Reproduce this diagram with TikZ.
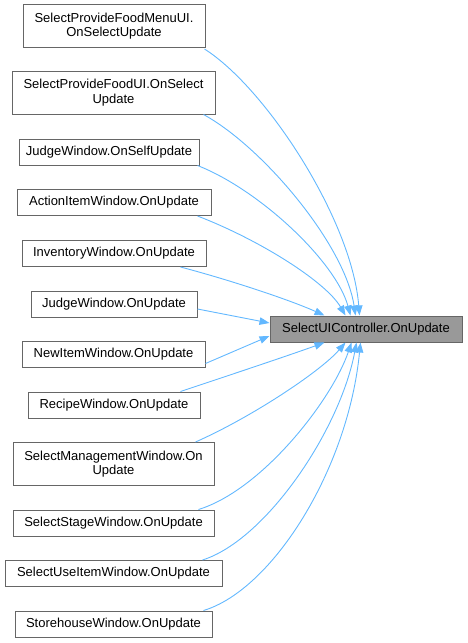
\documentclass[tikz,border=0pt]{standalone}
\usepackage{fontspec}
\setmainfont{Liberation Sans}
\usetikzlibrary{arrows.meta}
\definecolor{edgeblue}{HTML}{63B8FF}
\definecolor{boxborder}{HTML}{666666}
\definecolor{targetfill}{HTML}{999999}
\begin{document}
\begin{tikzpicture}[x=1pt,y=-1pt,
  fn/.style={draw=boxborder,line width=1pt,fill=white,inner sep=0pt,align=center,
    minimum height=26pt,font=\fontsize{13}{14.5}\selectfont},
  fn2/.style={fn,minimum height=43pt},
  tgt/.style={fn,fill=targetfill},
  call/.style={draw=edgeblue,line width=0.9pt,-{Triangle[length=10pt,width=7.5pt]}}]
\useasboundingbox (0,0) rectangle (467,643);
\node[fn2,minimum width=182pt] (s1) at (114,26) {SelectProvideFoodMenuUI.\\OnSelectUpdate};
\node[fn2,minimum width=203pt] (s2) at (113.5,92.5) {SelectProvideFoodUI.OnSelect\\Update};
\node[fn,minimum width=180pt] (s3) at (109,152) {JudgeWindow.OnSelfUpdate};
\node[fn,minimum width=194pt] (s4) at (114,202.5) {ActionItemWindow.OnUpdate};
\node[fn,minimum width=184pt] (s5) at (114,253.5) {InventoryWindow.OnUpdate};
\node[fn,minimum width=166pt] (s6) at (114,304) {JudgeWindow.OnUpdate};
\node[fn,minimum width=183pt] (s7) at (113.5,354.5) {NewItemWindow.OnUpdate};
\node[fn,minimum width=172pt] (s8) at (114,405) {RecipeWindow.OnUpdate};
\node[fn2,minimum width=201pt] (s9) at (113.5,464) {SelectManagementWindow.On\\Update};
\node[fn,minimum width=201pt] (s10) at (113.5,523) {SelectStageWindow.OnUpdate};
\node[fn,minimum width=217pt] (s11) at (113.5,573.5) {SelectUseItemWindow.OnUpdate};
\node[fn,minimum width=197pt] (s12) at (113.5,624) {StorehouseWindow.OnUpdate};
\node[tgt,minimum width=192pt] (t) at (366,329) {SelectUIController.OnUpdate};
% edges into the top of the target
\draw[call] ([xshift=-1pt,yshift=-1pt]s1.south east) .. controls (266,88) and (352,220) .. ([xshift=90pt]t.north west);
\draw[call] ([xshift=-12pt]s2.south east) .. controls (263,147) and (345,245) .. ([xshift=86pt]t.north west);
\draw[call] ([xshift=-2pt]s3.south east) .. controls (260,190) and (336,262) .. ([xshift=81pt]t.north west);
\draw[call] ([xshift=-14pt]s4.south east) .. controls (260,240) and (326,282) .. ([xshift=76pt]t.north west);
\draw[call] ([xshift=-26pt]s5.south east) .. controls (230,280) and (290,300) .. ([xshift=55pt]t.north west);
% edges into the left side
\draw[call] ([yshift=-5pt]s6.east) -- ([yshift=6pt]t.west);
\draw[call] ([yshift=-9pt]s7.east) -- ([yshift=-7pt]t.west);
% edges into the bottom of the target
\draw[call] ([xshift=-20pt]s8.north east) .. controls (230,375) and (290,355) .. ([xshift=55pt]t.south west);
\draw[call] ([xshift=-19pt]s9.north east) .. controls (250,418) and (320,372) .. ([xshift=76pt]t.south west);
\draw[call] ([xshift=-16pt]s10.north east) .. controls (262,490) and (332,400) .. ([xshift=82pt]t.south west);
\draw[call] ([xshift=-20pt]s11.north east) .. controls (266,540) and (340,430) .. ([xshift=87pt]t.south west);
\draw[call] ([xshift=-9pt]s12.north east) .. controls (272,590) and (348,470) .. ([xshift=91pt]t.south west);
\end{tikzpicture}
\end{document}
